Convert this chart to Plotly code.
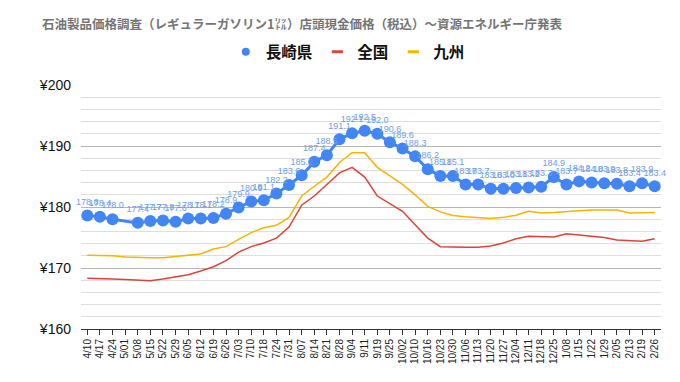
import plotly.graph_objects as go

dates = ["4/10", "4/17", "4/24", "5/01", "5/08", "5/15", "5/22", "5/29", "6/05", "6/12",
         "6/19", "6/26", "7/03", "7/10", "7/18", "7/24", "7/31", "8/07", "8/14", "8/21",
         "8/28", "9/04", "9/11", "9/19", "9/25", "10/02", "10/10", "10/16", "10/23", "10/30",
         "11/06", "11/13", "11/20", "11/27", "12/04", "12/11", "12/18", "12/25", "1/08", "1/15",
         "1/22", "1/29", "2/05", "2/13", "2/19", "2/26"]

nagasaki = [178.6, 178.4, 178.0, None, 177.4, 177.7, 177.8, 177.6, 178.1, 178.1,
            178.2, 178.9, 179.9, 180.9, 181.1, 182.2, 183.6, 185.2, 187.4, 188.5,
            191.1, 192.1, 192.5, 192.0, 190.6, 189.6, 188.3, 186.2, 185.1, 185.1,
            183.7, 183.7, 183.0, 183.0, 183.1, 183.2, 183.3, 184.9, 183.7, 184.2,
            184.0, 183.9, 183.8, 183.4, 183.9, 183.4]

zenkoku = [168.3, 168.3, 168.2, 168.1, 168.0, 167.9, 168.2, 168.5, 168.9, 169.5,
           170.2, 171.2, 172.6, 173.5, 174.1, 174.9, 176.7, 180.3, 181.8, 183.7,
           185.6, 186.5, 184.9, 181.8, 180.5, 179.3, 177.1, 174.9, 173.5, 173.4,
           173.4, 173.4, 173.6, 174.1, 174.8, 175.2, 175.1, 175.1, 175.6, 175.4,
           175.2, 175.0, 174.6, 174.5, 174.4, 174.8]

kyushu = [172.1, 172.1, 172.0, 171.8, 171.7, 171.7, 171.7, 171.9, 172.0, 172.3,
          173.1, 173.5, 174.7, 175.8, 176.6, 177.0, 178.3, 181.8, 183.4, 184.9,
          187.3, 188.9, 188.9, 186.5, 185.1, 183.7, 182.0, 180.1, 179.2, 178.6,
          178.4, 178.3, 178.1, 178.3, 178.65, 179.3, 179.0, 179.1, 179.3, 179.4,
          179.5, 179.5, 179.5, 179.0, 179.1, 179.1]

series_names = ["長崎県", "全国", "九州"]
title_text = "石油製品価格調査（レギュラーガソリン1㍑）店頭現金価格（税込）～資源エネルギー庁発表"

BLUE = "#4285f4"
RED = "#db4437"
YELLOW = "#f4b400"
FONT = "Liberation Sans, Arial, Noto Sans CJK JP, sans-serif"
JFONT = "Noto Sans CJK JP, Liberation Sans, sans-serif"

labels = [None if v is None else f"{v:.1f}" for v in nagasaki]

fig = go.Figure()
fig.add_trace(go.Scatter(
    x=dates, y=zenkoku, name=series_names[1], mode="lines",
    line=dict(color=RED, width=1.5), showlegend=False))
fig.add_trace(go.Scatter(
    x=dates, y=kyushu, name=series_names[2], mode="lines",
    line=dict(color=YELLOW, width=1.5), showlegend=False))
fig.add_trace(go.Scatter(
    x=dates, y=nagasaki, name=series_names[0], mode="lines+markers+text",
    connectgaps=True,
    line=dict(color=BLUE, width=3),
    marker=dict(color=BLUE, size=12),
    text=labels, textposition="top center",
    textfont=dict(color="#6d9eeb", size=9, family=FONT),
    cliponaxis=False, showlegend=False))

# legend entries
fig.add_trace(go.Scatter(x=[None], y=[None], name=series_names[0], mode="markers",
                         marker=dict(color=BLUE, size=8)))
fig.add_trace(go.Scatter(x=[None], y=[None], name=series_names[1], mode="markers",
                         marker=dict(symbol="line-ew-open", size=8, color=RED,
                                     line=dict(color=RED, width=3))))
fig.add_trace(go.Scatter(x=[None], y=[None], name=series_names[2], mode="markers",
                         marker=dict(symbol="line-ew-open", size=8, color=YELLOW,
                                     line=dict(color=YELLOW, width=3))))

fig.update_layout(
    width=680, height=382,
    margin=dict(l=73, r=27, t=77, b=61),
    paper_bgcolor="white", plot_bgcolor="white",
    font=dict(family=FONT, color="#222"),
    title=dict(text=title_text, x=34 / 680, xanchor="left", xref="container",
               y=1 - 17 / 382, yanchor="middle", yref="container",
               font=dict(family=JFONT, size=12.5, color="#757575", weight="bold")),
    legend=dict(orientation="h", x=0.46, xanchor="center", y=1.135, yanchor="middle",
                font=dict(family=JFONT, size=15.5, color="#111", weight="bold"),
                itemwidth=30, traceorder="normal", itemclick=False),
    showlegend=True,
)
fig.update_xaxes(
    type="category", range=[-0.5, len(dates) - 0.5],
    tickangle=-90, tickfont=dict(size=10, color="#222", family=FONT),
    ticks="outside", ticklen=5, tickcolor="#333",
    showline=True, linecolor="#333", linewidth=1,
    showgrid=False, zeroline=False,
)
fig.update_yaxes(
    range=[160, 200], dtick=10, tickprefix="¥",
    tickfont=dict(size=14, color="#111", family=FONT),
    showgrid=True, gridcolor="#b7b7b7", gridwidth=1,
    minor=dict(dtick=2, showgrid=True, gridcolor="#dedede", gridwidth=1),
    zeroline=False, showline=False, ticks="", ticklabelstandoff=9,
)

fig.write_html("out.html")
